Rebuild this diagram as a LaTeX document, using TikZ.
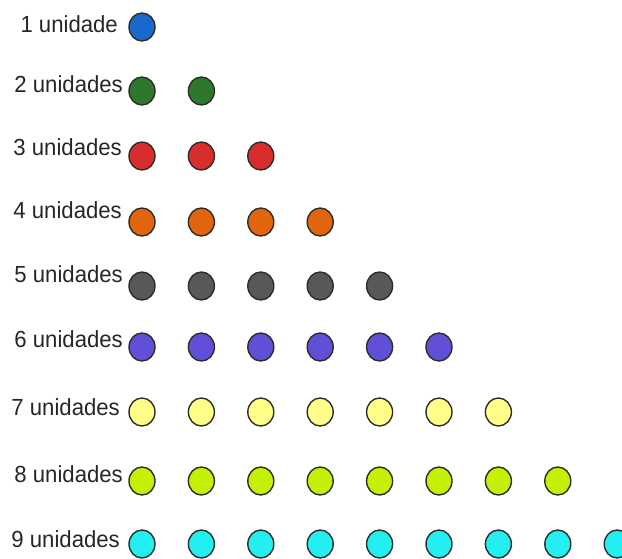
\documentclass[tikz,border=0pt]{standalone}
\usepackage{fontspec}
\setmainfont{Liberation Sans}[FakeStretch=0.95]
\usepackage{tikz}
\usetikzlibrary{positioning, calc, shapes.geometric}
\definecolor{cblue}{RGB}{25, 105, 205}
\definecolor{cgreen}{RGB}{45, 120, 45}
\definecolor{cred}{RGB}{215, 45, 45}
\definecolor{corange}{RGB}{225, 100, 15}
\definecolor{cgrey}{RGB}{88, 88, 88}
\definecolor{cpurple}{RGB}{95, 80, 215}
\definecolor{cyellow}{RGB}{255, 255, 135}
\definecolor{clime}{RGB}{195, 240, 5}
\definecolor{ccyan}{RGB}{35, 238, 240}
\definecolor{rim}{RGB}{45, 45, 40}

\begin{document}
\begin{tikzpicture}[x=1pt, y=-1pt,
    every node/.style={font=\fontsize{23.3}{25}\selectfont, text=black!85},
    dot/.style={draw=rim, line width=1.4pt, ellipse, minimum width=26pt, minimum height=28pt, inner sep=0pt},
    lbl/.style={anchor=base east, inner sep=0pt}]
    \useasboundingbox (0, 0) rectangle (622, 558);
    \clip (0, 0) rectangle (622, 558);
    % linhas: n / cor / centro y / base do texto / fim do texto
    \foreach \n/\c/\cy/\by/\rx in {1/cblue/27/32/118, 2/cgreen/91/92/123, 3/cred/156/155/122,
        4/corange/222/218/122, 5/cgrey/286/282/123, 6/cpurple/347/347/123,
        7/cyellow/412/415/120, 8/clime/481/482/123, 9/ccyan/544/547/120} {
        \ifnum\n=1
            \node[lbl] (lab\n) at (\rx, \by) {1 unidade};
        \else
            \node[lbl] (lab\n) at (\rx, \by) {\n{} unidades};
        \fi
        \foreach \k in {1,...,\n} {
            \node[dot, fill=\c] (d\n-\k) at ({142 + 59.4*(\k-1)}, \cy) {};
        }
    }
\end{tikzpicture}
\end{document}
